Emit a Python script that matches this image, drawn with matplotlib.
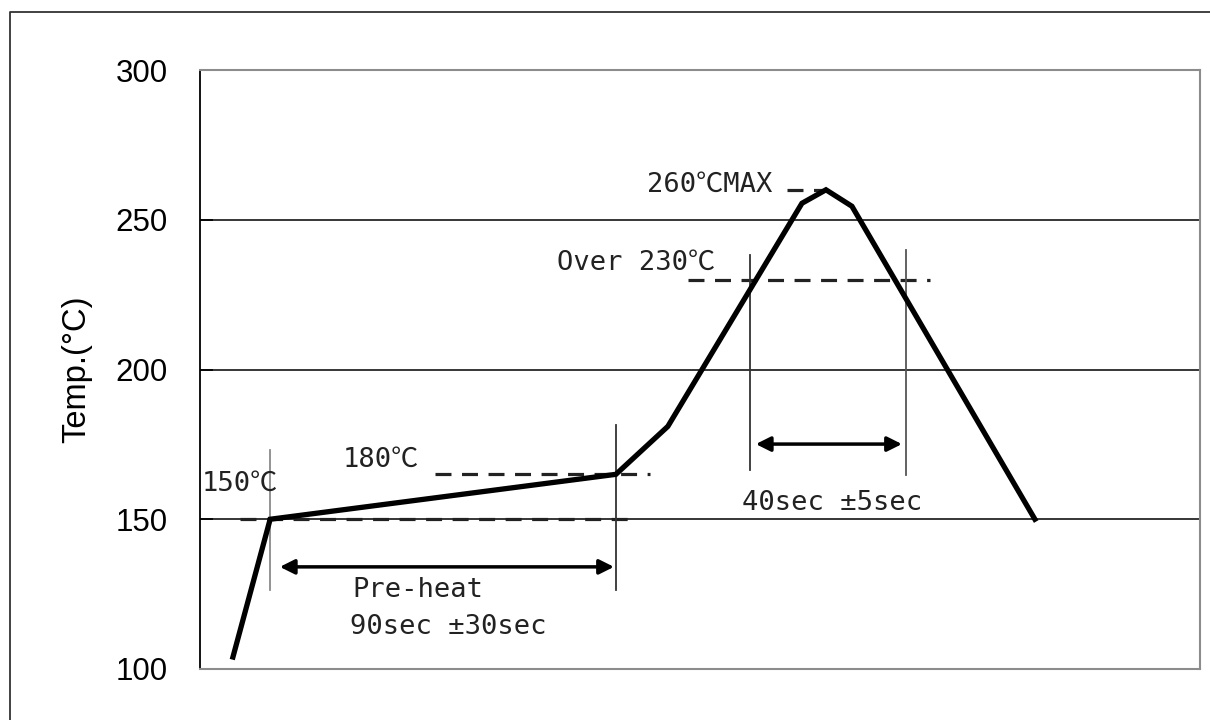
import matplotlib.pyplot as plt
from matplotlib.lines import Line2D

# reflow profile (time in sec, temperature in degC)
profile_t = [8.5, 18.1, 107.3, 114.0, 120.7, 155.3, 161.5, 168.2, 215.4]
profile_temp = [104, 150, 165, 173, 181, 255.5, 260, 254.5, 150]

grid_temps = [150, 200, 250]
y_ticks = [100, 150, 200, 250, 300]

# dashed level markers: (t_start, t_end, temp)
dash_levels = [(10.3, 111.7, 150), (60.6, 116.1, 165), (125.9, 188.3, 230), (151.4, 161.5, 260)]
# vertical markers: (t, temp_low, temp_high, color)
vmarks = [(18.1, 126.4, 173.1, "#8a8a8a"), (107.3, 126.4, 181.5, "#333333"),
          (141.9, 166.4, 238.2, "#333333"), (182.1, 164.8, 239.9, "#555555")]
# double arrows: (t_start, t_end, temp)
spans = [(20.6, 106.8, 134.1), (143.4, 181.1, 175.1)]

labels = [
    (0.5, 161.8, "150℃", "left"),
    (36.9, 169.8, "180℃", "left"),
    (92.1, 235.6, "Over 230℃", "left"),
    (147.6, 261.6, "260℃MAX", "right"),
    (39.2, 126.4, "Pre-heat", "left"),
    (38.7, 114.0, "90sec ±30sec", "left"),
    (139.8, 155.4, "40sec ±5sec", "left"),
]

fig = plt.figure(figsize=(12.1, 7.2), dpi=100)
ax = fig.add_axes([200 / 1210, 51 / 720, 1000 / 1210, 599 / 720])

# outer frame (only left/top edges visible in the image)
fx, fy = 9.5 / 1210, 708 / 720
fig.lines.append(Line2D([fx, fx, 1.0], [0.0, fy, fy], transform=fig.transFigure,
                        color="#333333", lw=1.3))

for g in grid_temps:
    ax.axhline(g, color="black", lw=1.1, zorder=1)

for t0, t1, temp in dash_levels:
    ax.plot([t0, t1], [temp, temp], color="#222222", lw=2.3, dashes=(5, 3.3), zorder=2)

for t, lo, hi, c in vmarks:
    ax.plot([t, t], [lo, hi], color=c, lw=1.3, zorder=2)

ax.plot(profile_t, profile_temp, color="black", lw=3.8, solid_joinstyle="miter", zorder=3)

for t0, t1, temp in spans:
    ax.annotate("", xy=(t1, temp), xytext=(t0, temp),
                arrowprops=dict(arrowstyle="<|-|>", color="black", lw=2.5, mutation_scale=22,
                                shrinkA=0, shrinkB=0))

for t, temp, s, ha in labels:
    ax.text(t, temp, s, ha=ha, va="center", fontsize=19.5, color="#222222",
            family=["DejaVu Sans Mono", "Noto Sans CJK JP"])

ax.set_xlim(0, 258)
ax.set_ylim(100, 300)
ax.set_xticks([])
ax.set_yticks(y_ticks)
ax.tick_params(axis="y", direction="in", length=9, width=1.2, pad=23, labelsize=22.5)
for lab in ax.get_yticklabels():
    lab.set_family("Liberation Sans")

for side in ["top", "right", "bottom"]:
    ax.spines[side].set_color("#8c8c8c")
    ax.spines[side].set_linewidth(1.5)
ax.spines["left"].set_color("black")
ax.spines["left"].set_linewidth(1.3)

ax.set_ylabel("Temp.(°C)", fontsize=23.5, family="Liberation Sans")
ax.yaxis.set_label_coords(-0.108, 0.5)

fig.savefig("out.png", dpi=100)
